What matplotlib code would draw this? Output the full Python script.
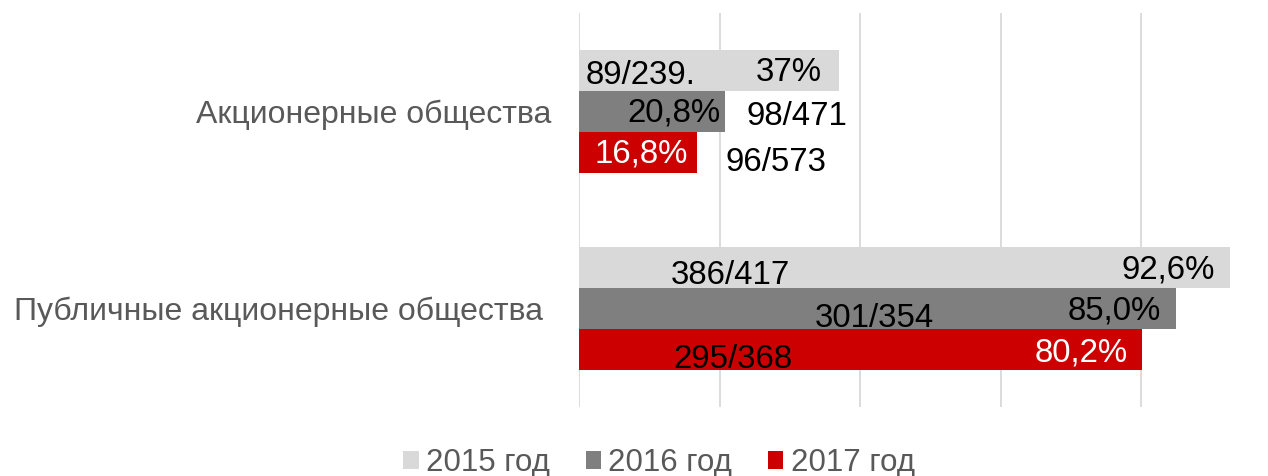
import matplotlib
matplotlib.use("Agg")
import matplotlib.pyplot as plt
import matplotlib.transforms as mtransforms
import numpy as np

# ---- data ----
categories = ["Акционерные общества", "Публичные акционерные общества"]
years = ["2015 год", "2016 год", "2017 год"]
pct_2015 = [37.0, 92.6]
pct_2016 = [20.8, 85.0]
pct_2017 = [16.8, 80.2]
pct_labels_2015 = ["37%", "92,6%"]
pct_labels_2016 = ["20,8%", "85,0%"]
pct_labels_2017 = ["16,8%", "80,2%"]
frac_labels_2015 = ["89/239.", "386/417"]
frac_labels_2016 = ["98/471", "301/354"]
frac_labels_2017 = ["96/573", "295/368"]

# ---- style / layout ----
colors = ["#d9d9d9", "#7f7f7f", "#cc0000"]
pct_text_colors = ["black", "black", "white"]
# label layout (x-position in axis units, horizontal alignment)
frac_pos = [[8.8, 21.6], [31.0, 42.1], [28.0, 21.9]]
pct_pos = [[(34.6, "right"), (90.5, "right")],
           [(20.1, "right"), (82.9, "right")],
           [(8.8, "center"), (78.1, "right")]]
frac_dy = [[0.025, 0.04], [0.025, 0.05], [0.05, 0.05]]
pct_dy = [[0.01, 0.015], [0.01, 0.015], [0.01, 0.02]]

plt.rcParams["font.family"] = ["Liberation Sans", "DejaVu Sans"]
W, H = 1268, 476
fig = plt.figure(figsize=(W / 100, H / 100), dpi=100)
ax = fig.add_axes([579 / W, (H - 407) / H, (1281.5 - 579) / W, 394 / H])

series = [pct_2015, pct_2016, pct_2017]
pct_labels = [pct_labels_2015, pct_labels_2016, pct_labels_2017]
frac_labels = [frac_labels_2015, frac_labels_2016, frac_labels_2017]
y = np.arange(len(categories))
h = 0.208
offsets = [-h, 0, h]
FS = 23.8
bars = []
for i, (vals, col) in enumerate(zip(series, colors)):
    b = ax.barh(y + offsets[i], vals, height=h, color=col, label=years[i], zorder=2)
    bars.append(b)
    for j in range(len(categories)):
        yc = y[j] + offsets[i]
        px, ha = pct_pos[i][j]
        ax.text(px, yc + pct_dy[i][j], pct_labels[i][j], ha=ha, va="center",
                fontsize=FS, color=pct_text_colors[i], zorder=3)
        ax.text(frac_pos[i][j], yc + frac_dy[i][j], frac_labels[i][j], ha="center",
                va="center", fontsize=FS, color="black", zorder=3)

ax.set_xlim(0, 100)
ax.set_ylim(1.5, -0.5)
ax.set_xticks([0, 20, 40, 60, 80, 100])
ax.set_xticklabels([])
ax.grid(axis="x", color="#d9d9d9", linewidth=1.3, zorder=0)
ax.tick_params(length=0)
for s in ax.spines.values():
    s.set_visible(False)
ax.set_yticks(y)
ax.set_yticklabels(categories, fontsize=23, color="#595959")
ax.tick_params(axis="y", pad=20)
lbls = ax.get_yticklabels()
lbls[1].set_transform(lbls[1].get_transform() +
                      mtransforms.ScaledTranslation(-8 / 100, 0, fig.dpi_scale_trans))

fig.legend(handles=bars, labels=years, loc="center", bbox_to_anchor=(659 / W, 13 / H),
           ncol=3, frameon=False, fontsize=22.5, labelcolor="#595959",
           handlelength=0.49, handleheight=0.49, handletextpad=0.23, columnspacing=1.15,
           borderpad=0, borderaxespad=0)

fig.savefig("out.png", dpi=100)
